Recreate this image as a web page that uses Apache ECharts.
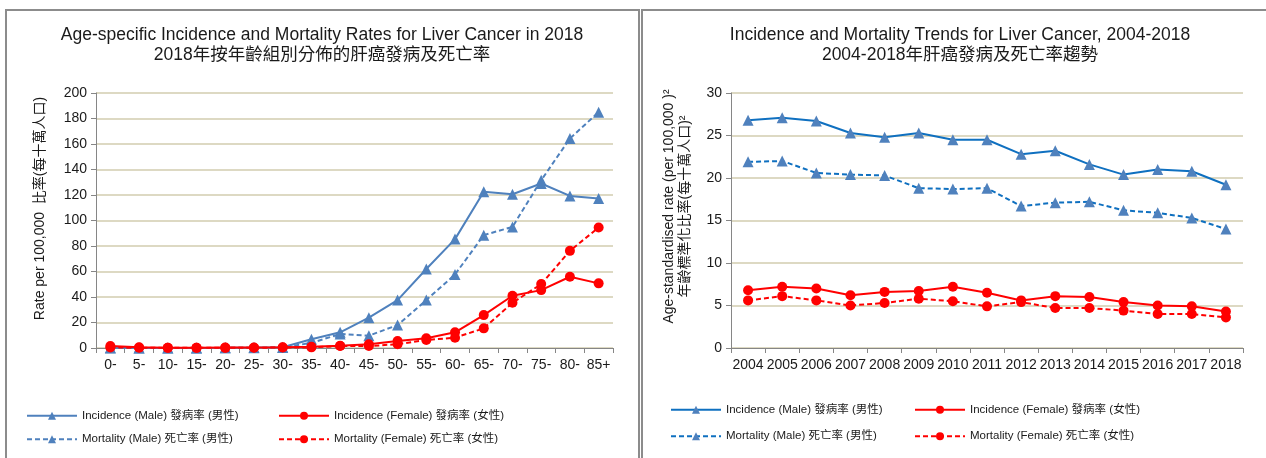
<!DOCTYPE html>
<html>
<head>
<meta charset="utf-8">
<script src="https://cdn.jsdelivr.net/npm/echarts@6/dist/echarts.min.js"></script>
<style>
  html, body { margin: 0; padding: 0; background: #fff; overflow: hidden; }
  .panel { position: absolute; top: 9px; height: 460px; border-top: 2px solid #8c8c8c; border-left: 2px solid #8c8c8c; }
  .chart { position: absolute; top: 0; height: 458px; }
</style>
</head>
<body>
<div class="panel" style="left:5px; width:631px; border-right: 2px solid #8c8c8c;"></div>
<div class="panel" style="left:641px; width:700px;"></div>
<div id="ageChart" class="chart" style="left:6px; width:632px;"></div>
<div id="trendChart" class="chart" style="left:642px; width:636px;"></div>
<script>
const FONT = "'Liberation Sans', Arial, 'Noto Sans CJK TC', sans-serif"

// age-specific rates, 2018
const ageGroups = ['0-', '5-', '10-', '15-', '20-', '25-', '30-', '35-', '40-', '45-', '50-', '55-', '60-', '65-', '70-', '75-', '80-', '85+']
const ageIncMale   = [0.2, 0, 0, 0, 0.1, 0.3, 0.6, 6.8, 12.3, 23.8, 37.6, 62, 85.4, 122.5, 120.6, 129, 119.3, 117.2]
const ageMortMale  = [0, 0, 0, 0, 0.1, 0.2, 0.4, 4, 11, 9.7, 18, 37.6, 57.7, 88.5, 95, 131.6, 164.3, 185]
const ageIncFemale = [1.5, 0.5, 0.2, 0.2, 0.3, 0.4, 0.6, 1, 1.8, 2.9, 5.5, 7.6, 12.3, 25.8, 41, 45.4, 55.9, 50.7]
const ageMortFemale = [0.4, 0.2, 0.1, 0.1, 0.1, 0.2, 0.4, 0.5, 1.5, 1.5, 3, 6.3, 8.1, 15.4, 35.5, 50.1, 76.2, 94.5]

// age-standardised trends, 2004-2018
const years = ['2004', '2005', '2006', '2007', '2008', '2009', '2010', '2011', '2012', '2013', '2014', '2015', '2016', '2017', '2018']
const trendIncMale   = [26.8, 27.1, 26.7, 25.3, 24.8, 25.3, 24.5, 24.5, 22.8, 23.2, 21.6, 20.4, 21.0, 20.8, 19.2]
const trendMortMale  = [21.9, 22.0, 20.6, 20.4, 20.3, 18.8, 18.7, 18.8, 16.7, 17.1, 17.2, 16.2, 15.9, 15.3, 14.0]
const trendIncFemale = [6.8, 7.2, 7.0, 6.2, 6.6, 6.7, 7.2, 6.5, 5.6, 6.1, 6.0, 5.4, 5.0, 4.9, 4.3]
const trendMortFemale = [5.6, 6.1, 5.6, 5.0, 5.3, 5.8, 5.5, 4.9, 5.4, 4.7, 4.7, 4.4, 4.0, 4.0, 3.6]

const names = [
  'Incidence (Male) 發病率 (男性)',
  'Mortality (Male) 死亡率 (男性)',
  'Incidence (Female) 發病率 (女性)',
  'Mortality (Female) 死亡率 (女性)'
]

const textColor = '#1a1a1a'
const gridColor = '#ddd9c3'
const axisColor = '#868686'

function lineSeries(name, data, lineColor, markColor, dashed, symbol) {
  return {
    name: name,
    type: 'line',
    data: data,
    symbol: symbol,
    symbolSize: symbol === 'triangle' ? 11 : 10,
    showSymbol: true,
    lineStyle: { color: lineColor, width: 2, type: dashed ? [5, 3] : 'solid' },
    itemStyle: { color: markColor, borderWidth: 0 },
    emphasis: { disabled: true },
    animation: false
  }
}

function legendCol(left, top, data, gap) {
  return {
    left: left, top: top, orient: 'vertical', data: data,
    itemWidth: 50, itemHeight: 10, itemGap: gap,
    textStyle: { fontFamily: FONT, fontSize: 11.5, color: textColor },
    selectedMode: false
  }
}

function baseOption(cfg) {
  return {
    textStyle: { fontFamily: FONT },
    title: {
      text: cfg.title,
      left: 'center', top: 20,
      textStyle: { fontFamily: FONT, fontSize: 17.5, fontWeight: 'normal', color: textColor, lineHeight: 20 }
    },
    grid: cfg.grid,
    legend: cfg.legend,
    xAxis: {
      type: 'category',
      data: cfg.categories,
      boundaryGap: true,
      axisLine: { lineStyle: { color: axisColor, width: 1 } },
      axisTick: { show: true, length: 5, lineStyle: { color: axisColor } },
      axisLabel: { interval: 0, margin: 10, fontSize: 14, color: textColor, fontFamily: FONT }
    },
    yAxis: {
      type: 'value',
      min: 0, max: cfg.max, interval: cfg.step,
      name: cfg.yName,
      nameLocation: 'middle',
      nameGap: cfg.nameGap,
      nameTextStyle: { fontFamily: FONT, fontSize: 14, color: textColor, lineHeight: 16, padding: [0, 0, 0, cfg.nameShift] },
      axisLine: { show: true, lineStyle: { color: axisColor, width: 1 } },
      axisTick: { show: true, length: 5, lineStyle: { color: axisColor } },
      axisLabel: { margin: 9, fontSize: 14, color: textColor, fontFamily: FONT },
      splitLine: { lineStyle: { color: gridColor, width: 2 } }
    },
    series: cfg.series
  }
}

const leftBlue = '#4f81bd'
const red = '#ff0000'
const ageChart = echarts.init(document.getElementById('ageChart'))
ageChart.setOption(baseOption({
  title: 'Age-specific Incidence and Mortality Rates for Liver Cancer in 2018\n2018年按年齡組別分佈的肝癌發病及死亡率',
  grid: { left: 90, right: 25, top: 93, bottom: 110 },
  legend: [
    legendCol(15, 405, [names[0], names[1]], 12),
    legendCol(267, 405, [names[2], names[3]], 12)
  ],
  categories: ageGroups,
  max: 200, step: 20,
  yName: 'Rate per 100,000  比率(每十萬人口)',
  nameGap: 48,
  nameShift: 24,
  series: [
    lineSeries(names[0], ageIncMale, leftBlue, leftBlue, false, 'triangle'),
    lineSeries(names[1], ageMortMale, leftBlue, leftBlue, true, 'triangle'),
    lineSeries(names[2], ageIncFemale, red, red, false, 'circle'),
    lineSeries(names[3], ageMortFemale, red, red, true, 'circle')
  ]
}))

const rightBlue = '#0f70c0'
const trendChart = echarts.init(document.getElementById('trendChart'))
trendChart.setOption(baseOption({
  title: 'Incidence and Mortality Trends for Liver Cancer, 2004-2018\n2004-2018年肝癌發病及死亡率趨勢',
  grid: { left: 89, right: 35, top: 93, bottom: 110 },
  legend: [
    legendCol(23, 399, [names[0], names[1]], 15),
    legendCol(267, 399, [names[2], names[3]], 15)
  ],
  categories: years,
  max: 30, step: 5,
  yName: 'Age-standardised rate (per 100,000 )²\n年齡標準化比率(每十萬人口)²',
  nameGap: 38,
  nameShift: 28,
  series: [
    lineSeries(names[0], trendIncMale, rightBlue, leftBlue, false, 'triangle'),
    lineSeries(names[1], trendMortMale, rightBlue, leftBlue, true, 'triangle'),
    lineSeries(names[2], trendIncFemale, red, red, false, 'circle'),
    lineSeries(names[3], trendMortFemale, red, red, true, 'circle')
  ]
}))
</script>
</body>
</html>
